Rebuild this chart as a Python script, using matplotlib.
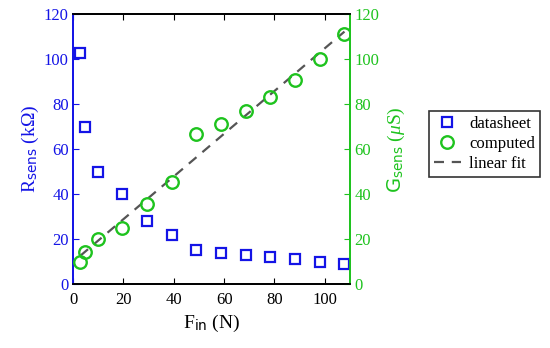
import matplotlib
matplotlib.use("Agg")
import matplotlib.pyplot as plt
from matplotlib.lines import Line2D

plt.rcParams['font.family'] = ['Liberation Serif', 'DejaVu Serif']
plt.rcParams['mathtext.fontset'] = 'custom'
plt.rcParams['mathtext.rm'] = 'Liberation Serif'
plt.rcParams['mathtext.it'] = 'Liberation Serif:italic'
plt.rcParams['mathtext.sf'] = 'DejaVu Sans'

# Data (force in N)
force = [2.94, 4.9, 9.8, 19.6, 29.4, 39.2, 49.0, 58.8, 68.6, 78.4, 88.2, 98.0, 107.8]
r_sens = [103, 70, 50, 40, 28, 22, 15, 14, 13, 12, 11, 10, 9]
g_sens = [9.7, 14.3, 20.0, 25.0, 35.7, 45.5, 66.7, 71.4, 76.9, 83.3, 90.9, 100.0, 111.1]
fit_x = [2.94, 107.8]
fit_y = [12.6, 112.3]

x_ticks = [0, 20, 40, 60, 80, 100]
y_ticks = [0, 20, 40, 60, 80, 100, 120]

blue = '#1414e6'
green = '#1ec31e'
gray = '#555555'

fig = plt.figure(figsize=(5.5, 3.48), dpi=100)
ax = fig.add_axes([73/550, 1-284/348, (350-73)/550, (284-14.3)/348])
ax2 = ax.twinx()

ax2.plot(fit_x, fit_y, linestyle=(0, (4.5, 3.5)), color=gray, lw=1.6, zorder=2)
ax.plot(force, r_sens, linestyle='none', marker='s', ms=6.5, mfc='none', mec=blue, mew=1.6, zorder=3)
ax2.plot(force, g_sens, linestyle='none', marker='o', ms=9, mfc='none', mec=green, mew=1.7, zorder=3)

ax.set_xlim(0, 110)
ax.set_ylim(0, 120)
ax2.set_ylim(0, 120)
ax.set_xticks(x_ticks)
ax.set_yticks(y_ticks)
ax2.set_yticks(y_ticks)

ax.tick_params(axis='x', direction='in', top=True, length=4, labelsize=12, colors='black', pad=6)
ax.tick_params(axis='y', direction='in', length=4, labelsize=12, colors=blue, pad=3)
ax2.tick_params(axis='y', direction='in', length=4, labelsize=12, colors=green, pad=3)

for a in (ax, ax2):
    a.spines['left'].set_color(blue)
    a.spines['right'].set_color(green)
    a.spines['top'].set_color('black')
    a.spines['bottom'].set_color('black')
    for s in a.spines.values():
        s.set_linewidth(1.3)

ax.set_xlabel(r'F$_{\mathsf{in}}$ (N)', fontsize=14, labelpad=3)
ax.set_ylabel(r'R$_{\mathsf{sens}}$ (k$\Omega$)', fontsize=14, color=blue, labelpad=2)
ax2.set_ylabel(r'$\mathsf{G}_{\mathsf{sens}}$ ($\mathit{\mu}$S)', fontsize=14, color=green, labelpad=5)

handles = [
    Line2D([], [], linestyle='none', marker='s', ms=6.5, mfc='none', mec=blue, mew=1.6),
    Line2D([], [], linestyle='none', marker='o', ms=9, mfc='none', mec=green, mew=1.7),
    Line2D([], [], linestyle=(0, (4.5, 3.5)), color=gray, lw=1.6),
]
leg = fig.legend(handles, ['datasheet', 'computed', 'linear fit'],
                 loc='upper left', bbox_to_anchor=(429/550, 1-111/348),
                 fontsize=12, frameon=True, fancybox=False, handlelength=1.6,
                 handletextpad=0.5, borderpad=0.3, labelspacing=0.25, borderaxespad=0)
leg.get_frame().set_edgecolor('black')
leg.get_frame().set_linewidth(1.2)

fig.savefig('out.png', dpi=100)
